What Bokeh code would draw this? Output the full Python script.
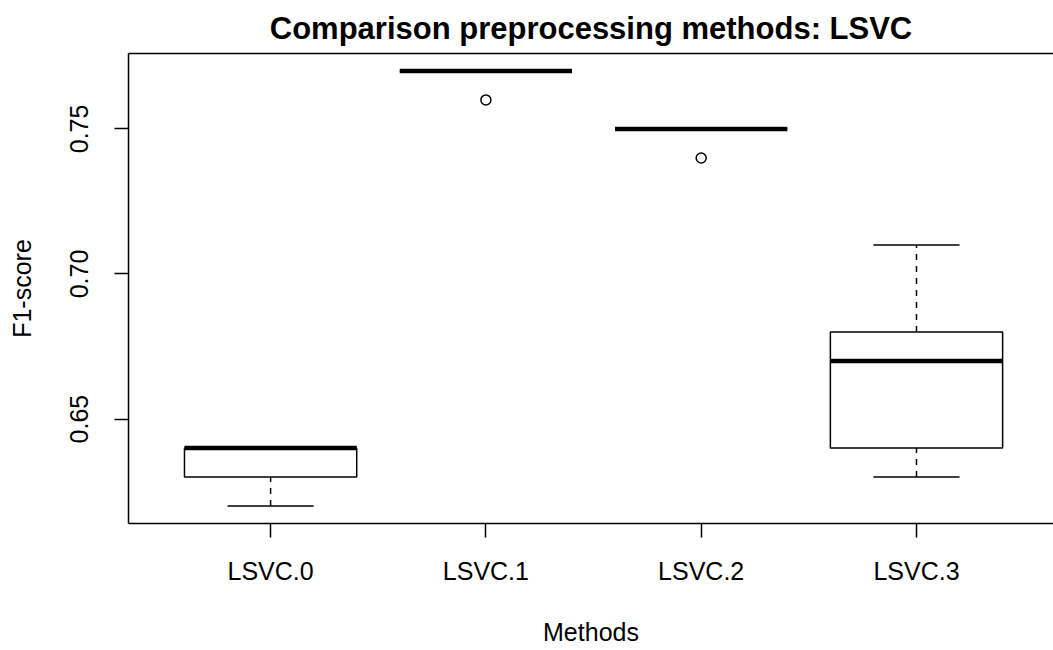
from bokeh.plotting import figure
from bokeh.models import Range1d, FixedTicker, LinearAxis, Title
from bokeh.embed import file_html
from bokeh.resources import INLINE

# Five-number summaries per preprocessing method (F1-score)
methods = ["LSVC.0", "LSVC.1", "LSVC.2", "LSVC.3"]
lower_whisker = [0.62, 0.77, 0.75, 0.63]
q1 = [0.63, 0.77, 0.75, 0.64]
median = [0.64, 0.77, 0.75, 0.67]
q3 = [0.64, 0.77, 0.75, 0.68]
upper_whisker = [0.64, 0.77, 0.75, 0.71]
outlier_method = ["LSVC.1", "LSVC.2"]
outlier_value = [0.76, 0.74]
y_ticks = [0.65, 0.70, 0.75]

FONT = "Liberation Sans"
pos = list(range(1, len(methods) + 1))
pos_of = {m: i for m, i in zip(methods, pos)}
box_half = 0.4
staple_half = 0.2

all_vals = lower_whisker + upper_whisker + outlier_value
lo, hi = min(all_vals), max(all_vals)
pad = 0.04 * (hi - lo)
x_start = 0.5 - 0.04 * len(methods)
x_scale = 215.3  # pixels per category step
frame_left, width = 128, 1053

p = figure(width=width, height=650, output_backend="svg", toolbar_location=None,
           x_range=Range1d(x_start, x_start + (width - frame_left) / x_scale),
           y_range=Range1d(lo - pad, hi + pad),
           min_border_left=frame_left, min_border_right=0,
           min_border_top=53, min_border_bottom=127)
p.outline_line_color = None
p.grid.visible = False
p.background_fill_color = "white"
p.border_fill_color = "white"

p.title = Title(text="Comparison preprocessing methods: LSVC", align="center",
                text_font=FONT, text_font_size="31px", text_font_style="bold",
                text_color="black", text_line_height=0.7, standoff=15, offset=2)

# axes
xa = p.xaxis[0]
xa.ticker = FixedTicker(ticks=pos)
xa.major_label_overrides = {i: m for i, m in zip(pos, methods)}
xa.axis_label = "Methods"
ya = p.yaxis[0]
ya.ticker = FixedTicker(ticks=y_ticks)
ya.major_label_overrides = {v: f"{v:.2f}" for v in y_ticks}
ya.major_label_orientation = "vertical"
ya.axis_label = "F1-score"
for ax in (xa, ya):
    ax.minor_tick_line_color = None
    ax.major_tick_in = 0
    ax.major_tick_out = 14
    ax.major_tick_line_width = 1.5
    ax.major_tick_line_color = "black"
    ax.axis_line_width = 1.5
    ax.axis_line_color = "black"
    ax.major_label_text_font = FONT
    ax.major_label_text_font_size = "25px"
    ax.major_label_text_color = "black"
    ax.axis_label_text_font = FONT
    ax.axis_label_text_font_size = "25px"
    ax.axis_label_text_font_style = "normal"
    ax.axis_label_text_color = "black"
xa.major_label_standoff = 19
xa.axis_label_standoff = 30
ya.major_label_standoff = 26
ya.axis_label_standoff = 32

# top edge of the plot box: an axis line with no ticks
top = LinearAxis(ticker=FixedTicker(ticks=[]), minor_tick_line_color=None,
                 major_tick_line_color=None, major_label_standoff=0,
                 major_tick_out=0, major_tick_in=0,
                 axis_line_width=1.5, axis_line_color="black")
p.add_layout(top, "above")

# whiskers (dashed)
p.segment(x0=pos, y0=q3, x1=pos, y1=upper_whisker, line_color="black",
          line_width=1.5, line_dash="6 6")
p.segment(x0=pos, y0=lower_whisker, x1=pos, y1=q1, line_color="black",
          line_width=1.5, line_dash="6 6")
# staples
p.segment(x0=[x - staple_half for x in pos], y0=upper_whisker,
          x1=[x + staple_half for x in pos], y1=upper_whisker,
          line_color="black", line_width=1.5)
p.segment(x0=[x - staple_half for x in pos], y0=lower_whisker,
          x1=[x + staple_half for x in pos], y1=lower_whisker,
          line_color="black", line_width=1.5)
# boxes
p.quad(left=[x - box_half for x in pos], right=[x + box_half for x in pos],
       bottom=q1, top=q3, fill_color="white", line_color="black", line_width=1.5)
# medians
p.segment(x0=[x - box_half for x in pos], y0=median,
          x1=[x + box_half for x in pos], y1=median,
          line_color="black", line_width=4.5)
# outliers
p.scatter(x=[pos_of[m] for m in outlier_method], y=outlier_value, marker="circle",
          size=10, fill_color=None, line_color="black", line_width=1.5)

open("out.html", "w").write(file_html(p, INLINE))
